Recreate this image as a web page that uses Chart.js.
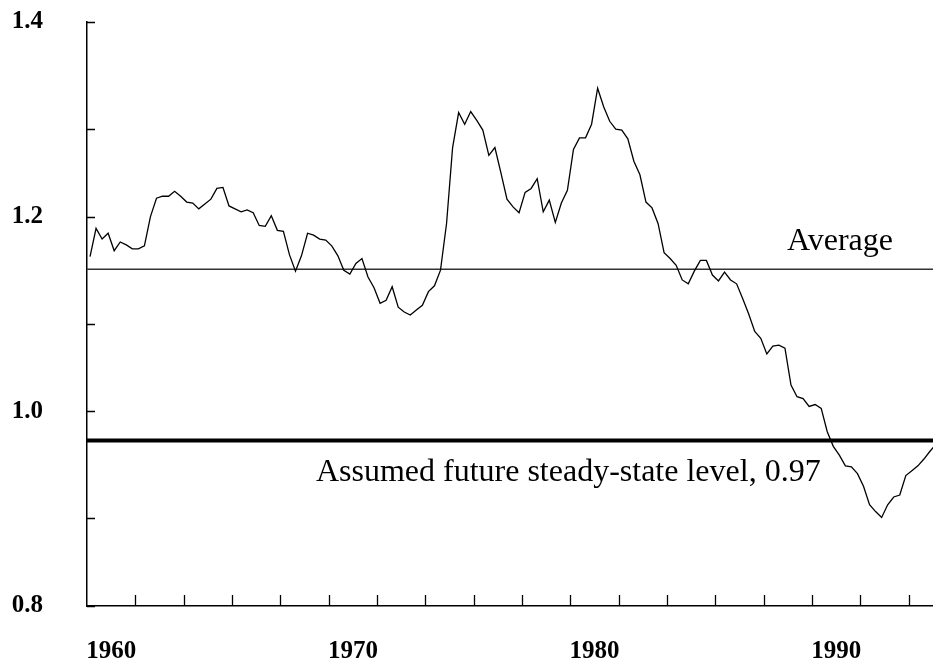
<!DOCTYPE html>
<html>
<head>
<meta charset="utf-8">
<script src="https://cdn.jsdelivr.net/npm/chart.js@4.4.1/dist/chart.umd.min.js"></script>
<style>
  html, body { margin: 0; padding: 0; background: #fff; }
</style>
</head>
<body>
<canvas id="chart" width="933" height="663"></canvas>
<script>
// quarterly series, first point is 1959 Q1
const startYear = 1959;
const ratio = [
  1.159, 1.188, 1.177, 1.183, 1.165, 1.174, 1.171, 1.167, 1.167, 1.170,
  1.200, 1.219, 1.221, 1.221, 1.226, 1.221, 1.215, 1.214, 1.208, 1.213,
  1.218, 1.229, 1.230, 1.211, 1.208, 1.205, 1.207, 1.204, 1.191, 1.190,
  1.201, 1.186, 1.185, 1.161, 1.144, 1.160, 1.183, 1.181, 1.177, 1.176,
  1.170, 1.160, 1.145, 1.141, 1.152, 1.157, 1.138, 1.127, 1.111, 1.114,
  1.128, 1.107, 1.102, 1.099, 1.104, 1.109, 1.123, 1.129, 1.145, 1.193,
  1.271, 1.307, 1.295, 1.308, 1.299, 1.289, 1.263, 1.271, 1.245, 1.218,
  1.210, 1.204, 1.225, 1.229, 1.239, 1.205, 1.217, 1.194, 1.214, 1.227,
  1.269, 1.281, 1.281, 1.295, 1.332, 1.313, 1.298, 1.290, 1.289, 1.280,
  1.257, 1.243, 1.215, 1.209, 1.193, 1.163, 1.157, 1.150, 1.135, 1.131,
  1.144, 1.155, 1.155, 1.140, 1.134, 1.143, 1.135, 1.131, 1.116, 1.100,
  1.082, 1.075, 1.059, 1.067, 1.068, 1.065, 1.027, 1.015, 1.013, 1.005,
  1.007, 1.003, 0.979, 0.964, 0.955, 0.944, 0.943, 0.936, 0.923, 0.904,
  0.897, 0.891, 0.904, 0.912, 0.914, 0.934, 0.939, 0.944, 0.951, 0.959,
  0.966
];
const averageLevel = 1.146;
const steadyLevel = 0.97;

const xMin = 1959, xMax = 1994;
const xLabelYears = [1960, 1970, 1980, 1990];
const xTickYears = [1961, 1963, 1965, 1967, 1969, 1971, 1973, 1975, 1977,
                    1979, 1981, 1983, 1985, 1987, 1989, 1991, 1993];
const yLabelValues = [0.8, 1.0, 1.2, 1.4];
const yTickValues = [0.8, 0.89, 1.0, 1.09, 1.2, 1.29, 1.4];

const averageText = 'Average';
const steadyText = 'Assumed future steady-state level, 0.97';

const points = ratio.map((v, i) => ({ x: startYear + (i + 0.5) / 4, y: v }));

function noPadding(s) {
  s.paddingTop = 0;
  s.paddingBottom = 0;
  s.paddingLeft = 0;
  s.paddingRight = 0;
}

// inward tick marks and the two line captions
const decor = {
  id: 'decor',
  afterDraw(chart) {
    const { ctx, chartArea } = chart;
    const x = chart.scales.x, y = chart.scales.y;
    ctx.save();
    ctx.strokeStyle = '#000';
    ctx.lineWidth = 1.3;
    ctx.beginPath();
    xTickYears.forEach(yr => {
      const px = Math.round(x.getPixelForValue(yr)) + 0.5;
      ctx.moveTo(px, chartArea.bottom);
      ctx.lineTo(px, chartArea.bottom - 11);
    });
    yTickValues.forEach(v => {
      const py = Math.round(y.getPixelForValue(v)) + 0.5;
      ctx.moveTo(chartArea.left, py);
      ctx.lineTo(chartArea.left + 8, py);
    });
    ctx.stroke();

    ctx.fillStyle = '#000';
    ctx.font = '32px "Liberation Serif", "DejaVu Serif", serif';
    ctx.textBaseline = 'alphabetic';
    ctx.textAlign = 'left';
    ctx.fillText(averageText, x.getPixelForValue(1987.96), y.getPixelForValue(averageLevel) - 19);
    ctx.fillText(steadyText, x.getPixelForValue(1968.47), y.getPixelForValue(steadyLevel) + 40);
    ctx.restore();
  }
};

new Chart(document.getElementById('chart'), {
  type: 'line',
  data: {
    datasets: [
      {
        data: points,
        borderColor: '#000',
        borderWidth: 1.3,
        pointRadius: 0,
        tension: 0
      },
      {
        data: [{ x: xMin, y: averageLevel }, { x: xMax, y: averageLevel }],
        borderColor: '#333',
        borderWidth: 1.3,
        pointRadius: 0
      },
      {
        data: [{ x: xMin, y: steadyLevel }, { x: xMax, y: steadyLevel }],
        borderColor: '#000',
        borderWidth: 4,
        pointRadius: 0
      }
    ]
  },
  options: {
    responsive: false,
    animation: false,
    events: [],
    layout: { padding: { top: 22, left: 0, right: 0, bottom: 0 } },
    plugins: { legend: { display: false }, tooltip: { enabled: false } },
    scales: {
      x: {
        type: 'linear',
        min: xMin,
        max: xMax,
        grid: { display: false, drawTicks: false },
        border: { display: true, color: '#000', width: 1.5 },
        afterBuildTicks: s => {
          s.ticks = xLabelYears.concat(xTickYears).sort((a, b) => a - b).map(v => ({ value: v }));
        },
        afterFit: s => { s.height = 57; noPadding(s); },
        ticks: {
          autoSkip: false,
          maxRotation: 0,
          padding: 31,
          color: '#000',
          font: { family: '"Liberation Serif", serif', size: 25, weight: 'bold' },
          callback: v => xLabelYears.includes(v) ? String(v) : ''
        }
      },
      y: {
        min: 0.8,
        max: 1.4,
        grid: { display: false, drawTicks: false },
        border: { display: true, color: '#000', width: 1.5 },
        afterBuildTicks: s => {
          s.ticks = yLabelValues.map(v => ({ value: v }));
        },
        afterFit: s => { s.width = 87; noPadding(s); },
        ticks: {
          padding: 44,
          color: '#000',
          font: { family: '"Liberation Serif", serif', size: 25, weight: 'bold' },
          callback: v => v.toFixed(1)
        }
      }
    }
  },
  plugins: [decor]
});
</script>
</body>
</html>
